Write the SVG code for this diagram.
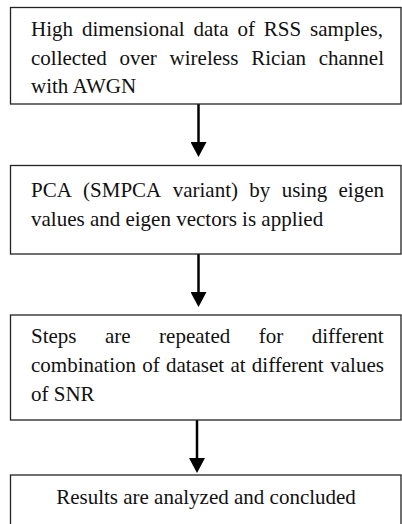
<svg xmlns="http://www.w3.org/2000/svg" width="402" height="524" viewBox="0 0 402 524">
<style>
.box{fill:#fff;stroke:#222;stroke-width:1.3}
.t{font-family:"Liberation Serif","Times New Roman",serif;font-size:21px;fill:#111}
.conn{stroke:#000;stroke-width:2.5;fill:none}
</style>
<defs>
<marker id="ah" viewBox="0 0 15 16" markerWidth="15" markerHeight="16" refX="0" refY="8" orient="auto" markerUnits="userSpaceOnUse">
<path d="M0,0 L15,8 L0,16 Z" fill="#000"/>
</marker>
</defs>
<rect width="402" height="524" fill="#fff"/>
<g id="connectors">
<line class="conn" x1="198.5" y1="104" x2="198.5" y2="142" marker-end="url(#ah)"/>
<line class="conn" x1="198.5" y1="254" x2="198.5" y2="292" marker-end="url(#ah)"/>
<line class="conn" x1="197" y1="420" x2="197" y2="458" marker-end="url(#ah)"/>
</g>
<g id="node1">
<rect class="box" x="10.5" y="7.5" width="390.5" height="96.5"/>
<text class="t" y="36"><tspan x="31">High</tspan><tspan x="81.9">dimensional</tspan><tspan x="193.5">data</tspan><tspan x="237.4">of</tspan><tspan x="263.8">RSS</tspan><tspan x="310.1">samples,</tspan></text>
<text class="t" y="64.5"><tspan x="31">collected</tspan><tspan x="119.5">over</tspan><tspan x="169.6">wireless</tspan><tspan x="251.2">Rician</tspan><tspan x="318.7">channel</tspan></text>
<text class="t" x="31" y="93">with AWGN</text>
</g>
<g id="node2">
<rect class="box" x="10.5" y="165.5" width="390.5" height="88.5"/>
<text class="t" y="197"><tspan x="31">PCA</tspan><tspan x="83.1">(SMPCA</tspan><tspan x="172.7">variant)</tspan><tspan x="249.3">by</tspan><tspan x="281.7">using</tspan><tspan x="338.5">eigen</tspan></text>
<text class="t" x="31" y="225.5">values and eigen vectors is applied</text>
</g>
<g id="node3">
<rect class="box" x="10.5" y="315" width="390.5" height="105"/>
<text class="t" y="343"><tspan x="31">Steps</tspan><tspan x="105">are</tspan><tspan x="159.1">repeated</tspan><tspan x="258.7">for</tspan><tspan x="311.7">different</tspan></text>
<text class="t" y="372"><tspan x="31">combination</tspan><tspan x="142.2">of</tspan><tspan x="165.9">dataset</tspan><tspan x="230.4">at</tspan><tspan x="251.8">different</tspan><tspan x="330.3">values</tspan></text>
<text class="t" x="31" y="401">of SNR</text>
</g>
<g id="node4">
<rect class="box" x="10.5" y="475" width="390.5" height="60"/>
<text class="t" x="206" y="504" text-anchor="middle">Results are analyzed and concluded</text>
</g>
</svg>
